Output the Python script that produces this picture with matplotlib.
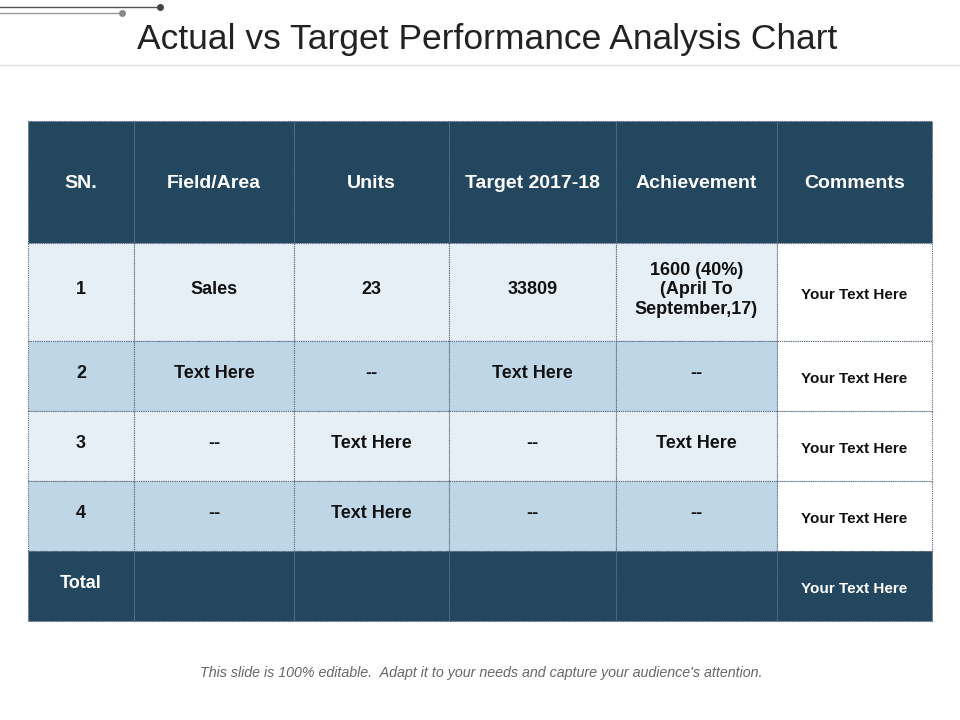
import matplotlib.pyplot as plt
from matplotlib.patches import Rectangle

headers = ['SN.', 'Field/Area', 'Units', 'Target 2017-18', 'Achievement', 'Comments']
sn = ['1', '2', '3', '4', 'Total']
field_area = ['Sales', 'Text Here', '--', '--', '']
units = ['23', '--', 'Text Here', 'Text Here', '']
target = ['33809', 'Text Here', '--', '--', '']
achievement = ['1600 (40%)\n(April To\nSeptember,17)', '--', 'Text Here', '--', '']
comments = ['Your Text Here'] * 5

dark = '#23475f'
light = '#e6eef6'
mid = '#bfd6e6'

col_x = [28, 134, 294, 449, 616, 777, 932]
row_y = [121, 243, 341, 411, 481, 551, 621]

fig = plt.figure(figsize=(9.6, 7.2), dpi=100)
ax = fig.add_axes([0, 0, 1, 1])
ax.set_xlim(0, 960)
ax.set_ylim(720, 0)
ax.axis('off')

# top decoration
ax.plot([0, 160], [7, 7], color='#555555', lw=1)
ax.plot([0, 122], [13, 13], color='#999999', lw=1)
ax.plot([160], [7], 'o', color='#444444', ms=4)
ax.plot([122], [13], 'o', color='#888888', ms=4)
ax.plot([0, 960], [65, 65], color='#dddddd', lw=1)

ax.text(487, 40, 'Actual vs Target Performance Analysis Chart', ha='center', va='center',
        fontsize=25.5, color='#222222', family='Liberation Sans')

columns = [sn, field_area, units, target, achievement, comments]

def cell(c, r, face, text, color, size, dy=0):
    x0, x1 = col_x[c], col_x[c + 1]
    y0, y1 = row_y[r], row_y[r + 1]
    ax.add_patch(Rectangle((x0, y0), x1 - x0, y1 - y0, facecolor=face,
                           edgecolor='#5a6a80', lw=0.8, ls=(0, (1, 1))))
    ax.text((x0 + x1) / 2, (y0 + y1) / 2 + dy, text, ha='center', va='center',
            color=color, fontsize=size, fontweight='bold', family='Liberation Sans',
            linespacing=1.2)

for c, h in enumerate(headers):
    cell(c, 0, dark, h, 'white', 14, dy=2)

for r in range(5):
    for c, col in enumerate(columns):
        if r == 4:
            face, color = dark, 'white'
        elif c == 5:
            face, color = 'white', '#111111'
        else:
            face = light if r % 2 == 0 else mid
            color = '#111111'
        size = 11 if c == 5 else 13
        dy = 3 if c == 5 else -2
        cell(c, r + 1, face, col[r], color, size, dy=dy)

ax.text(481, 673, "This slide is 100% editable.  Adapt it to your needs and capture your audience's attention.",
        ha='center', va='center', fontsize=10.3, style='italic', color='#666666', family='Liberation Sans')

fig.savefig('out.png', dpi=100)
